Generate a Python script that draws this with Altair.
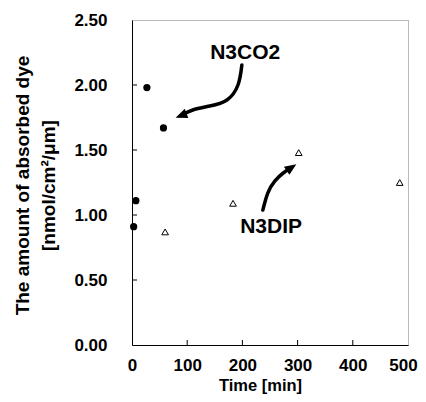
import altair as alt
import pandas as pd

# ---- data ----
co2_time = [3, 7, 27, 57]
co2_amount = [0.91, 1.11, 1.98, 1.67]
dip_time = [60, 183, 302, 485]
dip_amount = [0.87, 1.09, 1.48, 1.25]

x_ticks = [100, 200, 300, 400]
y_ticks = [0.5, 1.0, 1.5, 2.0]

label_names = ["N3CO2", "N3DIP"]
label_time = [205, 252]
label_amount = [2.246, 0.905]

arrow_co2_time = [199, 192, 172, 141, 110, 90]
arrow_co2_amount = [2.154, 2.0, 1.885, 1.838, 1.808, 1.767]
arrow_dip_time = [237, 246, 259, 274, 288]
arrow_dip_amount = [1.038, 1.169, 1.262, 1.323, 1.363]
head_co2 = (90, 1.767)
head_dip = (288, 1.363)

FONT = "Liberation Sans"

xs = alt.Scale(domain=[0, 500], nice=False)
ys = alt.Scale(domain=[0, 2.5], nice=False)

x_axis = alt.Axis(
    title="Time [min]", values=[0, 100, 200, 300, 400, 500], format="d",
    labelFlush=False, labelOverlap=False,
    labelOffset=alt.condition("datum.value == 500", alt.value(-5), alt.value(0)),
    titleX=128, titleY=45, titleBaseline="alphabetic", titleAlign="center",
    titleAnchor="middle", titleFontSize=16.5)
y_axis = alt.Axis(
    title=["The amount of absorbed dye", "[nmol/cm²/μm]"],
    values=[0, 0.5, 1.0, 1.5, 2.0, 2.5], format=".2f",
    labelFlush=False, labelOverlap=False,
    titleX=-110, titleY=165, titleBaseline="middle", titleAlign="center",
    titleAngle=-90, titleLineHeight=26, titleAnchor="middle")


def X(f):
    return alt.X(f, scale=xs, axis=x_axis)


def Y(f):
    return alt.Y(f, scale=ys, axis=y_axis)


co2 = pd.DataFrame({"t": co2_time, "a": co2_amount})
dip = pd.DataFrame({"t": dip_time, "a": dip_amount})

circ = alt.Chart(co2).mark_point(
    shape="circle", filled=True, color="black", size=52, opacity=1
).encode(x=X("t:Q"), y=Y("a:Q"))

tri = alt.Chart(dip).mark_point(
    shape="triangle-up", filled=False, color="black", size=45, strokeWidth=1, opacity=1
).encode(x=X("t:Q"), y=Y("a:Q"))

ytick = alt.Chart(pd.DataFrame({"v": y_ticks})).mark_rule(color="black", strokeWidth=1).encode(
    y=Y("v:Q"), x=alt.value(0), x2=alt.value(5)
)
xtick = alt.Chart(pd.DataFrame({"v": x_ticks})).mark_rule(color="black", strokeWidth=1).encode(
    x=X("v:Q"), y=alt.value(325), y2=alt.value(320)
)

labels = alt.Chart(pd.DataFrame({"n": label_names, "t": label_time, "a": label_amount})).mark_text(
    font=FONT, fontWeight="bold", fontSize=21, color="black", align="center", baseline="middle"
).encode(x=X("t:Q"), y=Y("a:Q"), text="n:N")


def arrow_line(ts, am):
    df = pd.DataFrame({"t": ts, "a": am, "i": list(range(len(ts)))})
    return alt.Chart(df).mark_line(
        color="black", strokeWidth=3.5, strokeCap="round", interpolate="natural"
    ).encode(x=X("t:Q"), y=Y("a:Q"), order="i:Q")


def arrow_head(pos, ang):
    df = pd.DataFrame({"t": [pos[0]], "a": [pos[1]]})
    return alt.Chart(df).mark_point(
        shape="M0,-1L0.75,0.8L-0.75,0.8Z", filled=True, color="black",
        size=170, angle=ang, opacity=1
    ).encode(x=X("t:Q"), y=Y("a:Q"))


chart = alt.layer(
    circ, tri, ytick, xtick, labels,
    arrow_line(arrow_co2_time, arrow_co2_amount), arrow_head(head_co2, 249),
    arrow_line(arrow_dip_time, arrow_dip_amount), arrow_head(head_dip, 56),
).properties(
    width=276, height=325,
    autosize=alt.AutoSizeParams(type="none"),
    padding={"left": 124, "top": 12, "right": 10, "bottom": 49},
).configure_view(
    stroke="#777777", strokeDash=[1, 1], strokeWidth=1
).configure_axis(
    grid=False, ticks=False, tickSize=0, domainColor="black", domainWidth=1,
    labelFont=FONT, labelFontWeight="bold", labelFontSize=17, labelColor="black",
    titleFont=FONT, titleFontWeight="bold", titleFontSize=19, titleColor="black",
).configure_axisY(labelPadding=25).configure_axisX(labelPadding=12)

chart.save("out.html", embed_options={"renderer": "svg", "actions": False})
